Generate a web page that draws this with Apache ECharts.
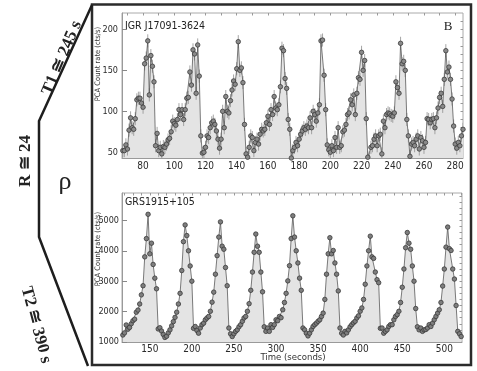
<!DOCTYPE html>
<html><head><meta charset="utf-8">
<script src="https://cdn.jsdelivr.net/npm/echarts@6/dist/echarts.min.js"></script>
<style>html,body{margin:0;padding:0;background:#fff}#c{width:477px;height:371px}</style>
</head><body><div id="c"></div>
<script>
// ---- IGR J17091-3624 (top panel), 1 s bins ----
const igrTime = [67,68,69,70,71,72,73,74,75,76,77,78,79,80,81,82,83,84,85,86,87,88,
89,90,91,92,93,94,95,96,97,98,99,100,101,102,103,104,105,106,107,108,109,110,111,112,113,114,115,116,117,
118,119,120,121,122,123,124,125,126,127,128,129,130,131,132,133,134,135,136,137,138,139,140,141,142,143,144,145,146,
147,148,149,150,151,152,153,154,155,156,157,158,159,160,161,162,163,164,165,166,167,168,169,170,171,172,173,174,175,
176,177,178,179,180,181,182,183,184,185,186,187,188,189,190,191,192,193,194,195,196,197,198,199,200,
201,202,203,204,205,206,207,208,209,210,211,212,213,214,215,216,217,218,219,220,221,222,223,224,225,
226,227,228,229,230,231,232,233,234,235,236,237,238,239,240,241,242,243,244,245,246,247,248,249,250,251,
252,253,254,255,256,257,258,259,260,261,262,263,264,265,266,267,268,269,270,271,272,273,274,275,276,277,278,279,280,281,282,283,284,285];
const igrRate = [52,52,59,54,77,92,80,78,91,114,116,116,110,105,158,165,186,120,168,155,136,58,
73,52,56,48,57,56,60,65,67,75,88,85,83,90,102,96,102,90,102,116,117,148,132,175,170,122,181,143,70,
49,50,56,70,68,80,86,88,84,76,66,55,66,100,80,118,100,98,113,126,137,133,152,185,150,153,135,84,48,
44,56,70,68,52,62,66,60,72,78,76,78,86,94,84,102,96,118,104,102,108,130,177,174,140,128,90,78,43,
52,56,62,58,66,72,76,80,78,82,80,92,80,100,96,88,98,108,186,187,144,102,59,53,50,
58,52,68,56,80,56,58,75,77,84,96,98,114,108,120,96,122,141,139,172,150,162,91,44,42,
56,58,66,70,58,70,72,48,88,80,96,98,97,95,94,98,136,129,122,183,158,161,150,90,70,45,
60,62,58,66,70,54,68,64,56,62,91,90,86,90,91,80,92,104,117,122,106,139,174,148,154,139,115,82,60,55,62,58,70,78];
const IGR_ERR = 8; // typical 1-sigma error bar, cts/s

// ---- GRS 1915+105 (bottom panel), 2 s bins ----
const grsTime = [118,120,122,124,126,128,130,132,134,136,138,140,142,144,146,148,150,152,154,156,158,160,
162,164,166,168,170,172,174,176,178,180,182,184,186,188,190,192,194,196,198,200,202,
204,206,208,210,212,214,216,218,220,222,224,226,228,230,232,234,236,238,240,242,244,
246,248,250,252,254,256,258,260,262,264,266,268,270,272,274,276,278,280,282,284,286,
288,290,292,294,296,298,300,302,304,306,308,310,312,314,316,318,320,322,324,326,328,330,332,
334,336,338,340,342,344,346,348,350,352,354,356,358,360,362,364,366,368,370,372,374,376,
378,380,382,384,386,388,390,392,394,396,398,400,402,404,406,408,410,412,414,416,418,420,422,424,
426,428,430,432,434,436,438,440,442,444,446,448,450,452,454,456,458,460,462,464,466,468,
470,472,474,476,478,480,482,484,486,488,490,492,494,496,498,500,502,504,506,508,510,512,514,516,518,520];
const grsRate = [1230,1300,1560,1420,1480,1600,1700,1750,1980,2050,2250,2550,2850,3800,4400,5200,3900,4250,3550,3100,2750,1430,
1470,1360,1250,1150,1190,1300,1400,1530,1670,1810,1980,2250,2600,3350,4300,4850,4500,4000,3500,3000,1450,
1510,1380,1290,1460,1570,1620,1730,1790,1840,2010,2310,2640,3230,3840,4450,4950,4150,4050,3450,2850,1460,
1270,1180,1270,1350,1400,1500,1570,1680,1790,1840,2010,2260,2700,3300,3950,4550,4150,3950,3300,2650,1500,
1350,1460,1350,1570,1480,1570,1730,1700,1840,1800,2060,2300,2600,3010,3510,4400,5150,4450,4000,3600,3100,2700,1460,
1400,1290,1200,1290,1400,1510,1570,1620,1680,1730,1840,1950,2400,3230,3900,4430,3900,4010,3600,3230,2680,1460,
1290,1230,1350,1300,1400,1500,1570,1630,1680,1790,1860,2010,2120,2400,2900,3500,4000,4480,3800,3750,3300,3050,2950,1450,
1460,1290,1350,1400,1510,1570,1570,1730,1840,1900,2010,2300,2800,3400,4100,4600,4250,4050,3500,3000,2100,1500,
1400,1460,1350,1400,1410,1460,1570,1510,1620,1730,1840,1950,2060,2300,2840,3400,4120,4780,4070,4010,3400,3070,2200,1350,1270,1180];

// ---- tick labels ----
const igrTimeTicks = [80,100,120,140,160,180,200,220,240,260,280];
const igrRateTicks = [50,100,150,200];
const grsTimeTicks = [150,200,250,300,350,400,450,500];
const grsRateTicks = [1000,2000,3000,4000,5000];

// ---- texts ----
const title1 = 'IGR J17091-3624';
const title2 = 'GRS1915+105';
const yName = 'PCA Count rate (cts/s)';
const xName = 'Time (seconds)';

function steps(a, b, s){ const r=[]; for(let v=a; v<=b+1e-9; v+=s) r.push(v); return r; }

const SANS = "'Liberation Sans Narrow','Arial Narrow','DejaVu Sans Condensed',sans-serif";
const SERIF = "'Liberation Serif','DejaVu Serif',serif";

function axisPair(grid, min, max, ticks, minor, labelMargin, fs){
  const base = {type:'value', gridIndex:grid, min:min, max:max, scale:true,
    splitLine:{show:false}, minorSplitLine:{show:false}};
  const major = Object.assign({}, base, {
    axisLine:{show:true, lineStyle:{color:'#9a9a9a', width:1}},
    axisTick:{show:true, inside:true, length:5, customValues:ticks, lineStyle:{color:'#888', width:1}},
    axisLabel:{show:true, customValues:ticks, showMinLabel:true, showMaxLabel:true, hideOverlap:false,
      formatter:function(v){ return String(v); },
      color:'#2a2a2a', fontSize:fs, fontFamily:SANS, margin:labelMargin}
  });
  const mnr = Object.assign({}, base, {
    axisLine:{show:false},
    axisTick:{show:true, inside:true, length:2.5, customValues:minor, lineStyle:{color:'#999', width:1}},
    axisLabel:{show:false}
  });
  return [major, mnr];
}

const xAx = [].concat(
  axisPair(0, 66.5, 285, igrTimeTicks, steps(70, 280, 10), 3, 10),
  axisPair(1, 117, 521, grsTimeTicks, steps(120, 520, 10), 2, 10)
);
const yAx = [].concat(
  axisPair(0, 43, 220, igrRateTicks, steps(50, 210, 10), 4, 9),
  axisPair(1, 1000, 5900, grsRateTicks, steps(1200, 5800, 200), 3, 9)
);

const igrPts = igrTime.map((t,i)=>[t, igrRate[i]]);
const grsPts = grsTime.map((t,i)=>[t, grsRate[i]]);
const igrErr = igrTime.map((t,i)=>[t, igrRate[i]-IGR_ERR, igrRate[i]+IGR_ERR]);

const chart = echarts.init(document.getElementById('c'), null, {renderer:'canvas'});
chart.setOption({
  animation:false,
  backgroundColor:'#fff',
  grid:[
    {left:122, top:13, width:341, height:145, show:true, borderColor:'#aaa', borderWidth:1, backgroundColor:'#fff'},
    {left:122, top:193, width:340, height:149, show:true, borderColor:'#aaa', borderWidth:1, backgroundColor:'#fff'}
  ],
  xAxis: xAx,
  yAxis: yAx,
  series:[
    {type:'line', xAxisIndex:0, yAxisIndex:0, data:igrPts, z:1, symbol:'none', silent:true,
      lineStyle:{width:0}, areaStyle:{color:'#e4e4e4', opacity:1, origin:'start'}},
    {type:'custom', xAxisIndex:0, yAxisIndex:0, data:igrErr, z:2, clip:true, silent:true,
      encode:{x:0, y:[1,2]},
      renderItem:function(params, api){
        const lo = api.coord([api.value(0), api.value(1)]);
        const hi = api.coord([api.value(0), api.value(2)]);
        return {type:'line', shape:{x1:lo[0], y1:lo[1], x2:hi[0], y2:hi[1]},
          style:{stroke:'#8f8f8f', lineWidth:0.8}};
      }},
    {type:'line', xAxisIndex:0, yAxisIndex:0, data:igrPts, z:3, symbol:'circle', symbolSize:4.5,
      lineStyle:{color:'#5a5a5a', width:0.8},
      itemStyle:{color:'#8a8a8a', borderColor:'#3c3c3c', borderWidth:0.8}},
    {type:'line', xAxisIndex:2, yAxisIndex:2, data:grsPts, z:1, symbol:'none', silent:true,
      lineStyle:{width:0}, areaStyle:{color:'#e4e4e4', opacity:1, origin:'start'}},
    {type:'line', xAxisIndex:2, yAxisIndex:2, data:grsPts, z:3, symbol:'circle', symbolSize:4.5,
      lineStyle:{color:'#5a5a5a', width:0.8},
      itemStyle:{color:'#7e7e7e', borderColor:'#3a3a3a', borderWidth:0.8}}
  ],
  graphic:[
    {type:'rect', shape:{x:92, y:4.5, width:379, height:360.5}, style:{fill:'none', stroke:'#2b2b2b', lineWidth:2.5}, z:10},
    {type:'polyline', shape:{points:[[92,5],[39,121],[39,237],[88,366]]}, style:{fill:'none', stroke:'#1e1e1e', lineWidth:2.5}, z:10},
    {type:'text', x:62, y:58, rotation:1.169, z:10,
      style:{text:'T1 \u2245 245 s', font:'bold 17px '+SERIF, fill:'#222', align:'center', verticalAlign:'middle'}},
    {type:'text', x:26, y:161, rotation:Math.PI/2, z:10,
      style:{text:'R \u2245 24', font:'bold 17px '+SERIF, fill:'#222', align:'center', verticalAlign:'middle'}},
    {type:'text', x:65, y:182, z:10,
      style:{text:'\u03c1', font:'26px '+SERIF, fill:'#222', align:'center', verticalAlign:'middle'}},
    {type:'text', x:36, y:325, rotation:-1.309, z:10,
      style:{text:'T2 \u2245 390 s', font:'bold 17px '+SERIF, fill:'#222', align:'center', verticalAlign:'middle'}},
    {type:'text', x:448, y:27, z:10,
      style:{text:'B', font:'13px '+SERIF, fill:'#222', align:'center', verticalAlign:'middle'}},
    {type:'text', x:125, y:26, z:10,
      style:{text:title1, font:'10.5px '+SANS, fill:'#222', align:'left', verticalAlign:'middle'}},
    {type:'text', x:125, y:202, z:10,
      style:{text:title2, font:'10.5px '+SANS, fill:'#222', align:'left', verticalAlign:'middle'}},
    {type:'text', x:98, y:64, rotation:Math.PI/2, z:10,
      style:{text:yName, font:'7.5px '+SANS, fill:'#333', align:'center', verticalAlign:'middle'}},
    {type:'text', x:98, y:249, rotation:Math.PI/2, z:10,
      style:{text:yName, font:'7.5px '+SANS, fill:'#333', align:'center', verticalAlign:'middle'}},
    {type:'text', x:293, y:358, z:10,
      style:{text:xName, font:'9.5px '+SANS, fill:'#333', align:'center', verticalAlign:'middle'}}
  ]
});
</script>
</body></html>
